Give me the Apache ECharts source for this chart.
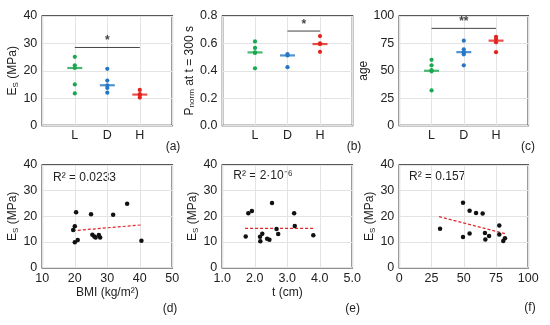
<!DOCTYPE html>
<html><head><meta charset="utf-8">
<script src="https://cdn.jsdelivr.net/npm/echarts@6/dist/echarts.min.js"></script>
<style>html,body{margin:0;padding:0;background:#fff}#c{width:550px;height:325px}</style>
</head><body><div id="c"></div>
<script>
// ---- data ----
const groups = ['L', 'D', 'H'];
// (a) Es by group
const esL = [25.1, 22.0, 21.0, 15.0, 11.7];
const esD = [20.7, 16.4, 14.7, 13.7, 12.0];
const esH = [13.0, 11.5, 11.1, 10.2];
const esMid = [21.0, 14.7, 11.3];
const esSig = [1, 3, 28.5];      // from group, to group, level
// (b) Pnorm by group
const pL = [0.614, 0.567, 0.534, 0.530, 0.418];
const pD = [0.522, 0.512, 0.426];
const pH = [0.653, 0.600, 0.595, 0.538];
const pMid = [0.534, 0.512, 0.595];
const pSig = [2, 3, 0.69];
// (c) age by group
const ageL = [60, 55, 50.5, 49.5, 32];
const ageD = [77.5, 69.6, 67, 65, 55];
const ageH = [81, 79, 76, 67];
const ageMid = [50, 67, 77.5];
const ageSig = [1, 3, 88.7];
// (d) Es vs BMI
const bmi = [20.4, 25.0, 31.8, 36.1, 20.0, 19.5, 20.0, 20.9, 25.4, 26.0, 26.4, 27.4, 27.8, 40.5];
const esBmi = [21.6, 20.8, 20.6, 24.9, 16.1, 14.7, 9.9, 10.8, 12.8, 12.2, 11.8, 12.7, 11.8, 10.5];
const bmiTrendX = [19.4, 40.8];
const bmiTrendY = [14.4, 16.7];
// (e) Es vs thickness
const thick = [1.72, 1.80, 1.91, 2.16, 2.17, 2.23, 2.38, 2.45, 2.53, 2.67, 2.72, 3.21, 3.23, 3.80];
const esThick = [12.2, 21.2, 22.1, 12.1, 10.3, 13.2, 11.3, 10.9, 25.2, 15.1, 13.1, 21.2, 16.2, 12.6];
const thickTrendX = [1.70, 3.80];
const thickTrendY = [15.3, 15.3];
// (f) Es vs age
const age = [31.6, 49.4, 49.4, 54.5, 54.5, 59.5, 64.6, 66.4, 66.7, 69.6, 77.5, 77.5, 80.6, 81.9];
const esAge = [15.2, 25.3, 12.0, 22.2, 13.3, 21.3, 21.1, 13.5, 11.0, 12.3, 16.4, 12.9, 10.4, 11.5];
const ageTrendX = [30.8, 83.2];
const ageTrendY = [19.9, 13.1];

// ---- styling ----
const FONT = '"Liberation Sans", Arial, sans-serif';
const TXT = '#222';
const COLORS = ['#1aa84f', '#2577c6', '#e5221d'];

const grids = [
  {left: 42.3, top: 16, width: 130, height: 109.5},
  {left: 222.5, top: 16, width: 130, height: 109.5},
  {left: 399.3, top: 16, width: 129, height: 109.5},
  {left: 42.3, top: 165, width: 130, height: 102.7},
  {left: 222.3, top: 165, width: 130, height: 102.7},
  {left: 399.3, top: 165, width: 129, height: 102.7}
].map(g => Object.assign({show: true, borderColor: '#222', borderWidth: 1.5, containLabel: false}, g));

const split = {show: true, lineStyle: {color: '#e3e3e3', width: 1}};
const lbl = (extra) => Object.assign({color: TXT, fontSize: 12.5, fontFamily: FONT}, extra || {});
const richName = {
  a: {fontSize: 12, fontFamily: FONT, color: TXT, lineHeight: 14},
  s: {fontSize: 8, fontFamily: FONT, color: TXT, lineHeight: 9, verticalAlign: 'bottom'}
};

function catX(i) {
  return {gridIndex: i, type: 'value', min: 0, max: 4, interval: 1,
    axisLine: {show: false}, axisTick: {show: false}, splitLine: split,
    axisLabel: lbl({margin: 4, formatter: v => groups[v - 1] || ''})};
}
function valY(i, min, max, interval, name, gap, fmt) {
  return {gridIndex: i, type: 'value', min, max, interval,
    axisLine: {show: false}, axisTick: {show: false}, splitLine: split,
    axisLabel: lbl({margin: 5, formatter: fmt || (v => String(v))}),
    name, nameLocation: 'middle', nameGap: gap, nameRotate: 90,
    nameTextStyle: {rich: richName, fontSize: 12, fontFamily: FONT, color: TXT}};
}
function valX(i, min, max, interval, name, fmt) {
  return {gridIndex: i, type: 'value', min, max, interval,
    axisLine: {show: false}, axisTick: {show: false}, splitLine: split,
    axisLabel: lbl({margin: 4, formatter: fmt || (v => String(v))}),
    name: name || '', nameLocation: 'middle', nameGap: 19,
    nameTextStyle: {fontSize: 12, fontFamily: FONT, color: TXT}};
}

const esName = '{a|E}{s|S}{a| (MPa)}';
const xAxes = [catX(0), catX(1), catX(2),
  valX(3, 10, 50, 10, 'BMI (kg/m²)'),
  valX(4, 1, 5, 1, 't (cm)', v => v.toFixed(1)),
  valX(5, 0, 100, 25, '')];
const yAxes = [
  valY(0, 0, 40, 10, esName, 18),
  valY(1, 0, 0.8, 0.2, '{a|P}{s|norm}{a| at t = 300 s}', 19, v => v.toFixed(1)),
  valY(2, 0, 100, 25, '{a|age}', 20),
  valY(3, 0, 40, 10, esName, 18),
  valY(4, 0, 40, 10, esName, 18),
  valY(5, 0, 40, 10, esName, 18)];

const series = [];
function groupPanel(i, lists, mids, sig, mark, unit) {
  lists.forEach((vals, g) => {
    series.push({type: 'scatter', xAxisIndex: i, yAxisIndex: i, symbolSize: 4.2,
      itemStyle: {color: COLORS[g], opacity: 1}, z: 3,
      data: vals.map(v => [g + 1, v])});
  });
  series.push({type: 'scatter', xAxisIndex: i, yAxisIndex: i, symbol: 'rect', symbolSize: [15, 2.2], z: 4,
    itemStyle: {color: p => COLORS[p.dataIndex]},
    data: mids.map((v, g) => [g + 1, v])});
  series.push({type: 'line', xAxisIndex: i, yAxisIndex: i, symbol: 'none', silent: true,
    lineStyle: {color: '#444', width: 1}, data: [[sig[0], sig[2]], [sig[1], sig[2]]]});
  series.push({type: 'scatter', xAxisIndex: i, yAxisIndex: i, symbolSize: 0.01, silent: true,
    label: {show: true, position: 'top', distance: 0, formatter: mark, color: '#111', fontSize: 12, fontWeight: 'bold', fontFamily: FONT},
    data: [[(sig[0] + sig[1]) / 2, sig[2] + unit]]});
}
groupPanel(0, [esL, esD, esH], esMid, esSig, '*', 0.2);
groupPanel(1, [pL, pD, pH], pMid, pSig, '*', 0.004);
groupPanel(2, [ageL, ageD, ageH], ageMid, ageSig, '**', 0.5);

function scatterPanel(i, xs, ys, tx, ty) {
  series.push({type: 'scatter', xAxisIndex: i, yAxisIndex: i, symbolSize: 4.5,
    itemStyle: {color: '#111', opacity: 1}, z: 3, data: xs.map((x, k) => [x, ys[k]])});
  series.push({type: 'line', xAxisIndex: i, yAxisIndex: i, symbol: 'none', silent: true, z: 2,
    lineStyle: {color: '#e0262a', width: 1.2, type: [3, 2]}, data: tx.map((x, k) => [x, ty[k]])});
}
scatterPanel(3, bmi, esBmi, bmiTrendX, bmiTrendY);
scatterPanel(4, thick, esThick, thickTrendX, thickTrendY);
scatterPanel(5, age, esAge, ageTrendX, ageTrendY);

const txt = (x, y, text, align, size) => ({type: 'text', x, y, silent: true,
  style: {text, fill: TXT, font: (size || 12) + 'px ' + FONT, align: align || 'center', verticalAlign: 'middle'}});

const graphic = [
  txt(173, 147, '(a)'), txt(354, 147, '(b)'), txt(528, 147, '(c)'),
  txt(170, 309, '(d)'), txt(352.7, 309, '(e)'), txt(530, 308, '(f)'),
  txt(53, 177.3, 'R² = 0.0233', 'left'),
  txt(233.3, 176, 'R² = 2·10⁻⁶', 'left'),
  txt(409, 176.5, 'R² = 0.157', 'left')
];

const chart = echarts.init(document.getElementById('c'), null, {renderer: 'canvas'});
chart.setOption({animation: false, backgroundColor: '#fff', grid: grids, xAxis: xAxes, yAxis: yAxes, series, graphic});
</script></body></html>
